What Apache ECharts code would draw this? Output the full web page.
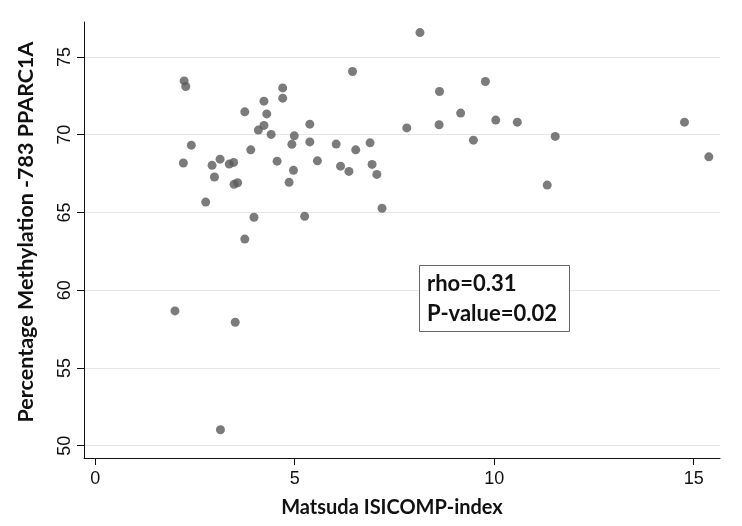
<!DOCTYPE html>
<html><head><meta charset="utf-8">
<script src="https://cdn.jsdelivr.net/npm/echarts@6/dist/echarts.min.js"></script>
<style>html,body{margin:0;padding:0;background:#fff}#c{width:742px;height:526px}</style>
</head><body><div id="c"></div>
<script>
const matsudaIndex = [2.23,2.27,2.41,2.21,2.00,2.77,2.93,2.99,3.13,3.36,3.47,3.48,3.57,3.14,3.51,3.75,3.90,3.75,3.98,4.09,4.23,4.23,4.30,4.41,4.56,4.70,4.70,4.93,4.99,4.86,4.97,5.38,5.38,5.57,5.25,6.04,6.15,6.36,6.45,6.53,6.89,6.94,7.06,7.19,7.81,8.14,8.63,8.62,9.16,9.48,9.78,10.04,10.58,11.53,11.33,14.77,15.38];
const methylation = [73.46,73.10,69.33,68.18,58.67,65.67,68.03,67.28,68.43,68.11,68.22,66.81,66.91,51.03,57.94,71.47,69.03,63.29,64.69,70.30,70.60,72.16,71.34,70.02,68.30,73.01,72.35,69.38,69.93,66.94,67.71,70.68,69.54,68.32,64.75,69.40,67.98,67.64,74.07,69.03,69.48,68.09,67.45,65.27,70.44,76.57,72.78,70.64,71.39,69.65,73.42,70.94,70.81,69.89,66.76,70.81,68.58];
const xTicks = [0, 5, 10, 15];
const yTicks = [50, 55, 60, 65, 70, 75];
const xRange = [-0.28, 15.66];
const yRange = [49.21, 77.25];
const xTitle = 'Matsuda ISICOMP-index';
const yTitle = 'Percentage Methylation -783 PPARC1A';
const statLines = ['rho=0.31', 'P-value=0.02'];

const points = matsudaIndex.map((x, i) => [x, methylation[i]]);
const chart = echarts.init(document.getElementById('c'), null, {renderer: 'canvas'});
const tickFont = {fontFamily: 'Liberation Sans, Arial, sans-serif', fontSize: 18, color: '#111'};
chart.setOption({
  animation: false,
  backgroundColor: '#fff',
  grid: {left: 84, right: 22, top: 22, bottom: 68, containLabel: false},
  xAxis: {
    type: 'value', min: xRange[0], max: xRange[1],
    name: xTitle, nameLocation: 'middle', nameGap: 40,
    nameTextStyle: {fontFamily: 'Lato, sans-serif', fontWeight: 'bold', fontSize: 20, color: '#111', padding: [0, 20, 0, 0]},
    axisLine: {show: true, onZero: false, lineStyle: {color: '#111', width: 1}},
    axisTick: {show: true, length: 7, lineStyle: {color: '#111'}, customValues: xTicks},
    axisLabel: Object.assign({margin: 12, customValues: xTicks}, tickFont),
    splitLine: {show: false}
  },
  yAxis: {
    type: 'value', min: yRange[0], max: yRange[1],
    name: yTitle, nameLocation: 'middle', nameGap: 47,
    nameTextStyle: {fontFamily: 'Lato, sans-serif', fontWeight: 'bold', fontSize: 21.5, color: '#111', padding: [0, 0, 0, 16]},
    axisLine: {show: true, onZero: false, lineStyle: {color: '#111', width: 1}},
    axisTick: {show: true, length: 7, lineStyle: {color: '#111'}, customValues: yTicks},
    axisLabel: Object.assign({margin: 10, rotate: 90, customValues: yTicks}, tickFont),
    splitLine: {show: true, lineStyle: {color: '#e6e6e6', width: 1}}
  },
  series: [{
    type: 'scatter', data: points, symbol: 'circle', symbolSize: 9,
    itemStyle: {color: '#5a5a5a'}, z: 3
  }],
  graphic: [
    {type: 'rect', left: 419, top: 265, shape: {width: 150, height: 66},
     style: {fill: '#fff', stroke: '#666', lineWidth: 1}, z: 10},
    {type: 'text', left: 427, top: 273, style: {text: statLines[0], font: 'bold 22px Lato, sans-serif', fill: '#111'}, z: 11},
    {type: 'text', left: 427, top: 303, style: {text: statLines[1], font: 'bold 22px Lato, sans-serif', fill: '#111'}, z: 11}
  ]
});
</script>
</body></html>
